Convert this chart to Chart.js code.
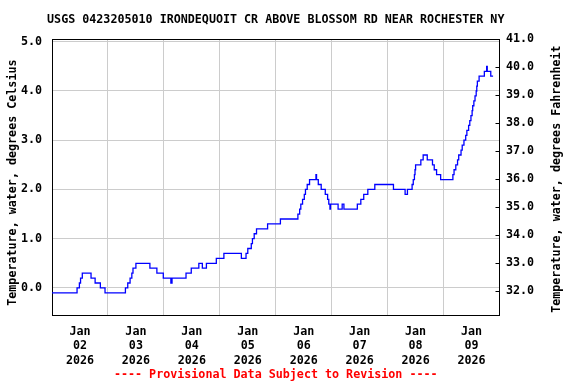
<!DOCTYPE html>
<html>
<head>
<meta charset="utf-8">
<script src="https://cdn.jsdelivr.net/npm/chart.js@4"></script>
<style>
html,body{margin:0;padding:0;background:#ffffff;}
canvas{display:block;}
</style>
</head>
<body>
<canvas id="c" width="576" height="384"></canvas>
<script>
// ---- Text ----
const chartTitle = 'USGS 0423205010 IRONDEQUOIT CR ABOVE BLOSSOM RD NEAR ROCHESTER NY';
const footerText = '---- Provisional Data Subject to Revision ----';
const leftAxisTitle = 'Temperature, water, degrees Celsius';
const rightAxisTitle = 'Temperature, water, degrees Fahrenheit';

// ---- Categories / tick labels ----
const monthLabel = 'Jan';
const dayLabels = ['02', '03', '04', '05', '06', '07', '08', '09'];
const yearLabel = '2026';

// ---- Series: hours since Jan 02 2026 00:00 where the reading changes, and the reading (deg C) ----
const hours = [
  0, 10.75, 11.75, 12.25, 13.0, 16.75, 18.5, 20.75, 22.75,
  31.5, 32.5, 33.5, 34.25, 34.75, 36.0, 42.0, 45.0, 47.75,
  51.0, 51.5, 57.5, 59.75, 63.0, 64.5, 66.25, 70.5, 73.75,
  81.25, 83.25, 84.0, 85.5, 86.0, 86.75, 87.75, 92.5, 98.0,
  105.5, 106.25, 106.75, 107.5, 108.25, 108.75, 109.5, 110.5, 113.25,
  113.5, 114.25, 115.5, 117.25, 118.25, 118.75, 119.25, 119.5, 122.75,
  124.5, 125.25, 131.0, 132.5, 133.75, 135.5, 138.5, 146.5, 151.5,
  152.5, 154.5, 155.0, 155.5, 155.75, 156.0, 158.25, 159.25, 161.0,
  163.25, 164.0, 165.0, 166.75, 172.0, 172.5, 173.25, 174.0, 174.5,
  175.5, 176.0, 176.75, 177.5, 178.0, 178.75, 179.25, 179.75, 180.25,
  180.5, 181.0, 181.5, 182.0, 182.25, 182.5, 183.25, 185.5, 186.5,
  186.75, 188.25, 189.25
];
const tempC = [
  -0.1, 0.0, 0.1, 0.2, 0.3, 0.2, 0.1, 0.0, -0.1,
  0.0, 0.1, 0.2, 0.3, 0.4, 0.5, 0.4, 0.3, 0.2,
  0.1, 0.2, 0.3, 0.4, 0.5, 0.4, 0.5, 0.6, 0.7,
  0.6, 0.7, 0.8, 0.9, 1.0, 1.1, 1.2, 1.3, 1.4,
  1.5, 1.6, 1.7, 1.8, 1.9, 2.0, 2.1, 2.2, 2.3,
  2.2, 2.1, 2.0, 1.9, 1.8, 1.7, 1.6, 1.7, 1.6,
  1.7, 1.6, 1.7, 1.8, 1.9, 2.0, 2.1, 2.0, 1.9,
  2.0, 2.1, 2.2, 2.3, 2.4, 2.5, 2.6, 2.7, 2.6,
  2.5, 2.4, 2.3, 2.2, 2.3, 2.4, 2.5, 2.6, 2.7,
  2.8, 2.9, 3.0, 3.1, 3.2, 3.3, 3.4, 3.5, 3.6,
  3.7, 3.8, 3.9, 4.0, 4.1, 4.2, 4.3, 4.4, 4.5,
  4.4, 4.3, 4.3
];

// ---- Axis ranges ----
const xRange = [0, 192];          // hours, Jan 02 00:00 .. Jan 10 00:00
const celsiusRange = [-0.57, 5.05];
const fahrenheitRange = [31.12, 41.0];

const FONT_FAMILY = '"DejaVu Sans Mono", "Liberation Mono", monospace';
const FONT_SIZE = 11.7;
const baseFont = { family: FONT_FAMILY, size: FONT_SIZE, weight: 'bold', lineHeight: 1.2 };

// Chart title (centred over the plot) and rotated axis titles (both read bottom-to-top)
const textPlugin = {
  id: 'chartTexts',
  afterDraw(chart) {
    const ctx = chart.ctx;
    const area = chart.chartArea;
    const midY = (area.top + area.bottom) / 2;
    const midX = (area.left + area.right) / 2;
    ctx.save();
    ctx.font = 'bold ' + FONT_SIZE + 'px ' + FONT_FAMILY;
    ctx.fillStyle = '#000000';
    ctx.textAlign = 'center';
    ctx.textBaseline = 'middle';
    ctx.fillText(chartTitle, midX, 20);
    const items = [
      { text: leftAxisTitle, x: chart.scales.y.left + 13, y: midY + 5 },
      { text: rightAxisTitle, x: chart.scales.y1.right - 19, y: midY + 1.5 }
    ];
    for (const it of items) {
      ctx.save();
      ctx.translate(it.x, it.y);
      ctx.rotate(-Math.PI / 2);
      ctx.fillText(it.text, 0, 0);
      ctx.restore();
    }
    ctx.restore();
  }
};

new Chart(document.getElementById('c'), {
  type: 'line',
  data: {
    datasets: [{
      data: hours.map((h, i) => ({ x: h, y: tempC[i] })),
      borderColor: '#0000ff',
      borderWidth: 1.3,
      pointRadius: 0,
      stepped: 'before',
      fill: false,
      xAxisID: 'x',
      yAxisID: 'y'
    }]
  },
  plugins: [textPlugin],
  options: {
    responsive: false,
    animation: false,
    devicePixelRatio: 1,
    layout: { padding: { top: 39.3, left: 0, right: 0, bottom: 0 } },
    plugins: {
      legend: { display: false },
      tooltip: { enabled: false },
      title: { display: false },
      subtitle: {
        display: true, position: 'bottom', text: footerText, color: '#ff0000', font: baseFont,
        padding: { top: 4, bottom: 2 }, fullSize: false
      }
    },
    scales: {
      x: {
        type: 'linear', position: 'bottom', min: xRange[0], max: xRange[1],
        ticks: {
          stepSize: 12, autoSkip: false, maxRotation: 0, minRotation: 0,
          color: '#000000', padding: 9,
          font: { family: FONT_FAMILY, size: FONT_SIZE, weight: 'bold', lineHeight: 1.22 },
          callback: (v) => (v % 24 === 12) ? [monthLabel, dayLabels[(v - 12) / 24], yearLabel] : ''
        },
        grid: {
          drawTicks: false,
          color: (ctx) => (ctx.tick && ctx.tick.value % 24 === 0 && ctx.tick.value > xRange[0] && ctx.tick.value < xRange[1]) ? '#cccccc' : 'rgba(0,0,0,0)'
        },
        border: { display: true, color: '#000000', width: 1 },
        afterFit: (s) => { s.height = 48; }
      },
      xTop: {
        type: 'linear', position: 'top', min: xRange[0], max: xRange[1],
        ticks: { display: false },
        grid: { display: false, drawTicks: false },
        border: { display: true, color: '#000000', width: 1 },
        afterFit: (s) => { s.height = 0; }
      },
      y: {
        type: 'linear', position: 'left', min: celsiusRange[0], max: celsiusRange[1],
        ticks: {
          stepSize: 1, includeBounds: false, color: '#000000', font: baseFont, padding: 10,
          callback: (v) => Number(v).toFixed(1)
        },
        grid: {
          drawTicks: false,
          color: (ctx) => (ctx.tick && ctx.tick.value >= 0 && ctx.tick.value <= 5) ? '#cccccc' : 'rgba(0,0,0,0)'
        },
        border: { display: true, color: '#000000', width: 1 },
        afterFit: (s) => { s.width = 52; }
      },
      y1: {
        type: 'linear', position: 'right', min: fahrenheitRange[0], max: fahrenheitRange[1],
        ticks: {
          stepSize: 1, includeBounds: false, color: '#000000', font: baseFont, padding: 10.5,
          callback: (v) => Number(v).toFixed(1)
        },
        grid: {
          drawOnChartArea: false, drawTicks: true, tickLength: -4,
          color: '#000000', tickColor: '#000000'
        },
        border: { display: true, color: '#000000', width: 1 },
        afterFit: (s) => { s.width = 76.5; }
      }
    }
  }
});
</script>
</body>
</html>
